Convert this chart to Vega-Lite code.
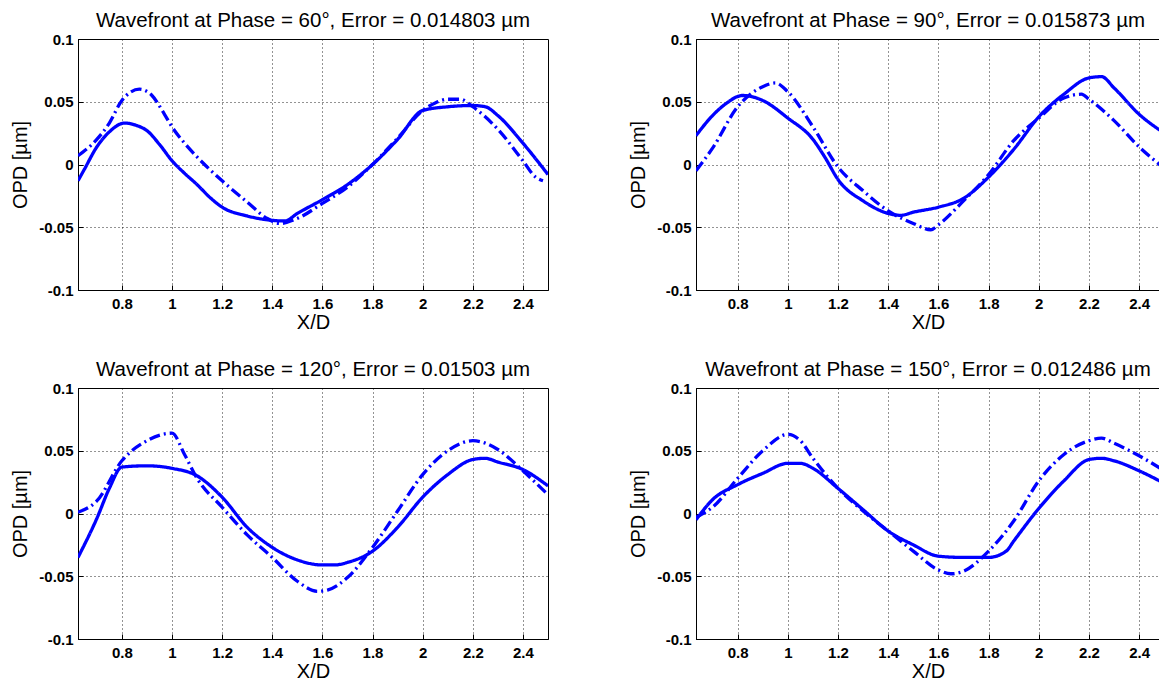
{
  "$schema": "https://vega.github.io/schema/vega-lite/v6.json",
  "autosize": {"type": "pad"},
  "padding": {"left": 10, "top": 10, "right": 0, "bottom": 0},
  "background": "white",
  "bounds": "flush",
  "columns": 2,
  "spacing": {"row": 98, "column": 148},
  "datasets": {
    "wf": [
      {"phase": 60, "series": "measured", "x": 0.625, "y": -0.013},
      {"phase": 60, "series": "measured", "x": 0.65, "y": -0.004},
      {"phase": 60, "series": "measured", "x": 0.7, "y": 0.014},
      {"phase": 60, "series": "measured", "x": 0.75, "y": 0.026},
      {"phase": 60, "series": "measured", "x": 0.81, "y": 0.033},
      {"phase": 60, "series": "measured", "x": 0.86, "y": 0.031},
      {"phase": 60, "series": "measured", "x": 0.9, "y": 0.027},
      {"phase": 60, "series": "measured", "x": 0.95, "y": 0.016},
      {"phase": 60, "series": "measured", "x": 1.0, "y": 0.003},
      {"phase": 60, "series": "measured", "x": 1.05, "y": -0.007},
      {"phase": 60, "series": "measured", "x": 1.1, "y": -0.016},
      {"phase": 60, "series": "measured", "x": 1.15, "y": -0.026},
      {"phase": 60, "series": "measured", "x": 1.2, "y": -0.034},
      {"phase": 60, "series": "measured", "x": 1.3, "y": -0.041},
      {"phase": 60, "series": "measured", "x": 1.4, "y": -0.0445},
      {"phase": 60, "series": "measured", "x": 1.45, "y": -0.045},
      {"phase": 60, "series": "measured", "x": 1.5, "y": -0.039},
      {"phase": 60, "series": "measured", "x": 1.6, "y": -0.028},
      {"phase": 60, "series": "measured", "x": 1.7, "y": -0.016},
      {"phase": 60, "series": "measured", "x": 1.8, "y": 0.0},
      {"phase": 60, "series": "measured", "x": 1.9, "y": 0.02},
      {"phase": 60, "series": "measured", "x": 2.0, "y": 0.043},
      {"phase": 60, "series": "measured", "x": 2.1, "y": 0.046},
      {"phase": 60, "series": "measured", "x": 2.2, "y": 0.047},
      {"phase": 60, "series": "measured", "x": 2.25, "y": 0.046},
      {"phase": 60, "series": "measured", "x": 2.3, "y": 0.039},
      {"phase": 60, "series": "measured", "x": 2.4, "y": 0.017},
      {"phase": 60, "series": "measured", "x": 2.5, "y": -0.008},
      {"phase": 60, "series": "model", "x": 0.625, "y": 0.007},
      {"phase": 60, "series": "model", "x": 0.7, "y": 0.02},
      {"phase": 60, "series": "model", "x": 0.75, "y": 0.033},
      {"phase": 60, "series": "model", "x": 0.8, "y": 0.051},
      {"phase": 60, "series": "model", "x": 0.87, "y": 0.06},
      {"phase": 60, "series": "model", "x": 0.92, "y": 0.055},
      {"phase": 60, "series": "model", "x": 0.97, "y": 0.04},
      {"phase": 60, "series": "model", "x": 1.0, "y": 0.03},
      {"phase": 60, "series": "model", "x": 1.05, "y": 0.017},
      {"phase": 60, "series": "model", "x": 1.1, "y": 0.006},
      {"phase": 60, "series": "model", "x": 1.2, "y": -0.013},
      {"phase": 60, "series": "model", "x": 1.3, "y": -0.03},
      {"phase": 60, "series": "model", "x": 1.38, "y": -0.043},
      {"phase": 60, "series": "model", "x": 1.43, "y": -0.047},
      {"phase": 60, "series": "model", "x": 1.5, "y": -0.043},
      {"phase": 60, "series": "model", "x": 1.6, "y": -0.031},
      {"phase": 60, "series": "model", "x": 1.7, "y": -0.018},
      {"phase": 60, "series": "model", "x": 1.8, "y": 0.0},
      {"phase": 60, "series": "model", "x": 1.9, "y": 0.021},
      {"phase": 60, "series": "model", "x": 2.0, "y": 0.043},
      {"phase": 60, "series": "model", "x": 2.05, "y": 0.049},
      {"phase": 60, "series": "model", "x": 2.1, "y": 0.052},
      {"phase": 60, "series": "model", "x": 2.15, "y": 0.052},
      {"phase": 60, "series": "model", "x": 2.2, "y": 0.046},
      {"phase": 60, "series": "model", "x": 2.3, "y": 0.028},
      {"phase": 60, "series": "model", "x": 2.4, "y": 0.003},
      {"phase": 60, "series": "model", "x": 2.45, "y": -0.01},
      {"phase": 60, "series": "model", "x": 2.48, "y": -0.013},

      {"phase": 90, "series": "measured", "x": 0.634, "y": 0.023},
      {"phase": 90, "series": "measured", "x": 0.7, "y": 0.039},
      {"phase": 90, "series": "measured", "x": 0.75, "y": 0.048},
      {"phase": 90, "series": "measured", "x": 0.82, "y": 0.055},
      {"phase": 90, "series": "measured", "x": 0.9, "y": 0.051},
      {"phase": 90, "series": "measured", "x": 1.0, "y": 0.037},
      {"phase": 90, "series": "measured", "x": 1.1, "y": 0.02},
      {"phase": 90, "series": "measured", "x": 1.15, "y": 0.005},
      {"phase": 90, "series": "measured", "x": 1.2, "y": -0.012},
      {"phase": 90, "series": "measured", "x": 1.3, "y": -0.029},
      {"phase": 90, "series": "measured", "x": 1.4, "y": -0.039},
      {"phase": 90, "series": "measured", "x": 1.45, "y": -0.0405},
      {"phase": 90, "series": "measured", "x": 1.5, "y": -0.038},
      {"phase": 90, "series": "measured", "x": 1.6, "y": -0.034},
      {"phase": 90, "series": "measured", "x": 1.7, "y": -0.027},
      {"phase": 90, "series": "measured", "x": 1.8, "y": -0.01},
      {"phase": 90, "series": "measured", "x": 1.9, "y": 0.012},
      {"phase": 90, "series": "measured", "x": 2.0, "y": 0.038},
      {"phase": 90, "series": "measured", "x": 2.1, "y": 0.056},
      {"phase": 90, "series": "measured", "x": 2.2, "y": 0.069},
      {"phase": 90, "series": "measured", "x": 2.25, "y": 0.07},
      {"phase": 90, "series": "measured", "x": 2.3, "y": 0.061},
      {"phase": 90, "series": "measured", "x": 2.4, "y": 0.04},
      {"phase": 90, "series": "measured", "x": 2.5, "y": 0.025},
      {"phase": 90, "series": "model", "x": 0.634, "y": -0.005},
      {"phase": 90, "series": "model", "x": 0.7, "y": 0.013},
      {"phase": 90, "series": "model", "x": 0.8, "y": 0.046},
      {"phase": 90, "series": "model", "x": 0.9, "y": 0.062},
      {"phase": 90, "series": "model", "x": 0.95, "y": 0.065},
      {"phase": 90, "series": "model", "x": 1.0, "y": 0.058},
      {"phase": 90, "series": "model", "x": 1.1, "y": 0.03},
      {"phase": 90, "series": "model", "x": 1.2, "y": -0.002},
      {"phase": 90, "series": "model", "x": 1.3, "y": -0.021},
      {"phase": 90, "series": "model", "x": 1.4, "y": -0.037},
      {"phase": 90, "series": "model", "x": 1.5, "y": -0.047},
      {"phase": 90, "series": "model", "x": 1.57, "y": -0.052},
      {"phase": 90, "series": "model", "x": 1.6, "y": -0.048},
      {"phase": 90, "series": "model", "x": 1.7, "y": -0.029},
      {"phase": 90, "series": "model", "x": 1.8, "y": -0.008},
      {"phase": 90, "series": "model", "x": 1.9, "y": 0.019},
      {"phase": 90, "series": "model", "x": 2.0, "y": 0.037},
      {"phase": 90, "series": "model", "x": 2.1, "y": 0.053},
      {"phase": 90, "series": "model", "x": 2.17, "y": 0.056},
      {"phase": 90, "series": "model", "x": 2.2, "y": 0.052},
      {"phase": 90, "series": "model", "x": 2.3, "y": 0.035},
      {"phase": 90, "series": "model", "x": 2.4, "y": 0.014},
      {"phase": 90, "series": "model", "x": 2.5, "y": -0.003},

      {"phase": 120, "series": "measured", "x": 0.625, "y": -0.035},
      {"phase": 120, "series": "measured", "x": 0.7, "y": -0.004},
      {"phase": 120, "series": "measured", "x": 0.75, "y": 0.02},
      {"phase": 120, "series": "measured", "x": 0.8, "y": 0.037},
      {"phase": 120, "series": "measured", "x": 0.9, "y": 0.038},
      {"phase": 120, "series": "measured", "x": 1.0, "y": 0.036},
      {"phase": 120, "series": "measured", "x": 1.1, "y": 0.03},
      {"phase": 120, "series": "measured", "x": 1.2, "y": 0.013},
      {"phase": 120, "series": "measured", "x": 1.3, "y": -0.011},
      {"phase": 120, "series": "measured", "x": 1.4, "y": -0.027},
      {"phase": 120, "series": "measured", "x": 1.5, "y": -0.037},
      {"phase": 120, "series": "measured", "x": 1.6, "y": -0.041},
      {"phase": 120, "series": "measured", "x": 1.65, "y": -0.041},
      {"phase": 120, "series": "measured", "x": 1.7, "y": -0.039},
      {"phase": 120, "series": "measured", "x": 1.8, "y": -0.03},
      {"phase": 120, "series": "measured", "x": 1.9, "y": -0.011},
      {"phase": 120, "series": "measured", "x": 2.0, "y": 0.013},
      {"phase": 120, "series": "measured", "x": 2.1, "y": 0.031},
      {"phase": 120, "series": "measured", "x": 2.2, "y": 0.043},
      {"phase": 120, "series": "measured", "x": 2.25, "y": 0.044},
      {"phase": 120, "series": "measured", "x": 2.3, "y": 0.041},
      {"phase": 120, "series": "measured", "x": 2.4, "y": 0.035},
      {"phase": 120, "series": "measured", "x": 2.5, "y": 0.022},
      {"phase": 120, "series": "model", "x": 0.625, "y": 0.001},
      {"phase": 120, "series": "model", "x": 0.7, "y": 0.01},
      {"phase": 120, "series": "model", "x": 0.8, "y": 0.042},
      {"phase": 120, "series": "model", "x": 0.9, "y": 0.058},
      {"phase": 120, "series": "model", "x": 1.0, "y": 0.064},
      {"phase": 120, "series": "model", "x": 1.05, "y": 0.047},
      {"phase": 120, "series": "model", "x": 1.1, "y": 0.028},
      {"phase": 120, "series": "model", "x": 1.2, "y": 0.005},
      {"phase": 120, "series": "model", "x": 1.3, "y": -0.017},
      {"phase": 120, "series": "model", "x": 1.4, "y": -0.035},
      {"phase": 120, "series": "model", "x": 1.5, "y": -0.054},
      {"phase": 120, "series": "model", "x": 1.58, "y": -0.062},
      {"phase": 120, "series": "model", "x": 1.62, "y": -0.061},
      {"phase": 120, "series": "model", "x": 1.7, "y": -0.051},
      {"phase": 120, "series": "model", "x": 1.8, "y": -0.027},
      {"phase": 120, "series": "model", "x": 1.9, "y": 0.002},
      {"phase": 120, "series": "model", "x": 2.0, "y": 0.031},
      {"phase": 120, "series": "model", "x": 2.1, "y": 0.05},
      {"phase": 120, "series": "model", "x": 2.2, "y": 0.058},
      {"phase": 120, "series": "model", "x": 2.3, "y": 0.051},
      {"phase": 120, "series": "model", "x": 2.4, "y": 0.034},
      {"phase": 120, "series": "model", "x": 2.5, "y": 0.015},

      {"phase": 150, "series": "measured", "x": 0.634, "y": -0.005},
      {"phase": 150, "series": "measured", "x": 0.7, "y": 0.011},
      {"phase": 150, "series": "measured", "x": 0.8, "y": 0.023},
      {"phase": 150, "series": "measured", "x": 0.9, "y": 0.032},
      {"phase": 150, "series": "measured", "x": 1.0, "y": 0.04},
      {"phase": 150, "series": "measured", "x": 1.05, "y": 0.04},
      {"phase": 150, "series": "measured", "x": 1.1, "y": 0.036},
      {"phase": 150, "series": "measured", "x": 1.2, "y": 0.02},
      {"phase": 150, "series": "measured", "x": 1.3, "y": 0.003},
      {"phase": 150, "series": "measured", "x": 1.4, "y": -0.014},
      {"phase": 150, "series": "measured", "x": 1.5, "y": -0.025},
      {"phase": 150, "series": "measured", "x": 1.6, "y": -0.034},
      {"phase": 150, "series": "measured", "x": 1.7, "y": -0.035},
      {"phase": 150, "series": "measured", "x": 1.8, "y": -0.035},
      {"phase": 150, "series": "measured", "x": 1.87, "y": -0.03},
      {"phase": 150, "series": "measured", "x": 1.9, "y": -0.022},
      {"phase": 150, "series": "measured", "x": 2.0, "y": 0.004},
      {"phase": 150, "series": "measured", "x": 2.1, "y": 0.026},
      {"phase": 150, "series": "measured", "x": 2.2, "y": 0.043},
      {"phase": 150, "series": "measured", "x": 2.25, "y": 0.044},
      {"phase": 150, "series": "measured", "x": 2.3, "y": 0.042},
      {"phase": 150, "series": "measured", "x": 2.4, "y": 0.034},
      {"phase": 150, "series": "measured", "x": 2.5, "y": 0.024},
      {"phase": 150, "series": "model", "x": 0.634, "y": -0.003},
      {"phase": 150, "series": "model", "x": 0.7, "y": 0.005},
      {"phase": 150, "series": "model", "x": 0.8, "y": 0.028},
      {"phase": 150, "series": "model", "x": 0.9, "y": 0.05},
      {"phase": 150, "series": "model", "x": 1.0, "y": 0.063},
      {"phase": 150, "series": "model", "x": 1.05, "y": 0.058},
      {"phase": 150, "series": "model", "x": 1.1, "y": 0.044},
      {"phase": 150, "series": "model", "x": 1.2, "y": 0.02},
      {"phase": 150, "series": "model", "x": 1.3, "y": 0.002},
      {"phase": 150, "series": "model", "x": 1.4, "y": -0.014},
      {"phase": 150, "series": "model", "x": 1.5, "y": -0.03},
      {"phase": 150, "series": "model", "x": 1.6, "y": -0.045},
      {"phase": 150, "series": "model", "x": 1.65, "y": -0.048},
      {"phase": 150, "series": "model", "x": 1.7, "y": -0.046},
      {"phase": 150, "series": "model", "x": 1.8, "y": -0.03},
      {"phase": 150, "series": "model", "x": 1.9, "y": -0.006},
      {"phase": 150, "series": "model", "x": 2.0, "y": 0.026},
      {"phase": 150, "series": "model", "x": 2.1, "y": 0.047},
      {"phase": 150, "series": "model", "x": 2.2, "y": 0.058},
      {"phase": 150, "series": "model", "x": 2.25, "y": 0.06},
      {"phase": 150, "series": "model", "x": 2.3, "y": 0.056},
      {"phase": 150, "series": "model", "x": 2.4, "y": 0.046},
      {"phase": 150, "series": "model", "x": 2.5, "y": 0.034}
    ]
  },
  "config": {
    "view": {"stroke": "#000000", "strokeWidth": 1},
    "font": "Liberation Sans",
    "title": {"font": "Liberation Sans", "fontSize": 20.5, "fontWeight": "normal", "color": "#000000", "offset": 1, "anchor": "middle"},
    "axis": {
      "grid": true,
      "gridColor": "#000000",
      "gridDash": [1, 3],
      "gridOpacity": 0.85,
      "gridWidth": 1,
      "domainColor": "#000000",
      "tickColor": "#000000",
      "tickSize": -5,
      "labelFont": "Liberation Sans",
      "labelFontWeight": "bold",
      "labelFontSize": 15,
      "labelColor": "#000000",
      "titleFont": "Liberation Sans",
      "titleFontWeight": "normal",
      "titleFontSize": 20,
      "titleColor": "#000000"
    },
    "axisX": {"labelPadding": 11, "titlePadding": 1},
    "axisY": {"labelPadding": 10, "titlePadding": 8}
  },
  "concat": [
    {
      "width": 470, "height": 251,
      "title": "Wavefront at Phase = 60°, Error = 0.014803 µm",
      "data": {"name": "wf"},
      "transform": [{"filter": "datum.phase == 60"}],
      "mark": {"type": "line", "clip": true, "strokeWidth": 3.3, "color": "#0000FF", "interpolate": "monotone"},
      "encoding": {
        "x": {"field": "x", "type": "quantitative", "scale": {"domain": [0.625, 2.5], "nice": false, "zero": false}, "axis": {"values": [0.8, 1, 1.2, 1.4, 1.6, 1.8, 2, 2.2, 2.4], "labelExpr": "'' + datum.value", "title": "X/D"}},
        "y": {"field": "y", "type": "quantitative", "scale": {"domain": [-0.1, 0.1], "nice": false, "zero": false}, "axis": {"values": [-0.1, -0.05, 0, 0.05, 0.1], "labelExpr": "'' + datum.value", "title": "OPD [µm]"}},
        "strokeDash": {"field": "series", "type": "nominal", "scale": {"domain": ["measured", "model"], "range": [[1, 0], [11, 4, 2, 4]]}, "legend": null}
      }
    },
    {
      "width": 464, "height": 251,
      "title": "Wavefront at Phase = 90°, Error = 0.015873 µm",
      "data": {"name": "wf"},
      "transform": [{"filter": "datum.phase == 90"}],
      "mark": {"type": "line", "clip": true, "strokeWidth": 3.3, "color": "#0000FF", "interpolate": "monotone"},
      "encoding": {
        "x": {"field": "x", "type": "quantitative", "scale": {"domain": [0.634, 2.483], "nice": false, "zero": false}, "axis": {"values": [0.8, 1, 1.2, 1.4, 1.6, 1.8, 2, 2.2, 2.4], "labelExpr": "'' + datum.value", "title": "X/D"}},
        "y": {"field": "y", "type": "quantitative", "scale": {"domain": [-0.1, 0.1], "nice": false, "zero": false}, "axis": {"values": [-0.1, -0.05, 0, 0.05, 0.1], "labelExpr": "'' + datum.value", "title": "OPD [µm]"}},
        "strokeDash": {"field": "series", "type": "nominal", "scale": {"domain": ["measured", "model"], "range": [[1, 0], [11, 4, 2, 4]]}, "legend": null}
      }
    },
    {
      "width": 470, "height": 251,
      "title": "Wavefront at Phase = 120°, Error = 0.01503 µm",
      "data": {"name": "wf"},
      "transform": [{"filter": "datum.phase == 120"}],
      "mark": {"type": "line", "clip": true, "strokeWidth": 3.3, "color": "#0000FF", "interpolate": "monotone"},
      "encoding": {
        "x": {"field": "x", "type": "quantitative", "scale": {"domain": [0.625, 2.5], "nice": false, "zero": false}, "axis": {"values": [0.8, 1, 1.2, 1.4, 1.6, 1.8, 2, 2.2, 2.4], "labelExpr": "'' + datum.value", "title": "X/D"}},
        "y": {"field": "y", "type": "quantitative", "scale": {"domain": [-0.1, 0.1], "nice": false, "zero": false}, "axis": {"values": [-0.1, -0.05, 0, 0.05, 0.1], "labelExpr": "'' + datum.value", "title": "OPD [µm]"}},
        "strokeDash": {"field": "series", "type": "nominal", "scale": {"domain": ["measured", "model"], "range": [[1, 0], [11, 4, 2, 4]]}, "legend": null}
      }
    },
    {
      "width": 464, "height": 251,
      "title": "Wavefront at Phase = 150°, Error = 0.012486 µm",
      "data": {"name": "wf"},
      "transform": [{"filter": "datum.phase == 150"}],
      "mark": {"type": "line", "clip": true, "strokeWidth": 3.3, "color": "#0000FF", "interpolate": "monotone"},
      "encoding": {
        "x": {"field": "x", "type": "quantitative", "scale": {"domain": [0.634, 2.483], "nice": false, "zero": false}, "axis": {"values": [0.8, 1, 1.2, 1.4, 1.6, 1.8, 2, 2.2, 2.4], "labelExpr": "'' + datum.value", "title": "X/D"}},
        "y": {"field": "y", "type": "quantitative", "scale": {"domain": [-0.1, 0.1], "nice": false, "zero": false}, "axis": {"values": [-0.1, -0.05, 0, 0.05, 0.1], "labelExpr": "'' + datum.value", "title": "OPD [µm]"}},
        "strokeDash": {"field": "series", "type": "nominal", "scale": {"domain": ["measured", "model"], "range": [[1, 0], [11, 4, 2, 4]]}, "legend": null}
      }
    }
  ]
}
